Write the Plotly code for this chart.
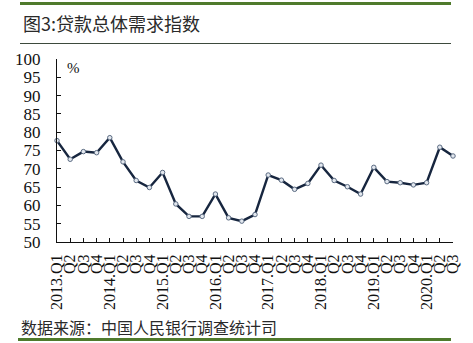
import plotly.graph_objects as go

# Loan demand index by quarter, 2013Q1 - 2020Q3 (%)
quarters = [
    "2013.Q1", "Q2", "Q3", "Q4",
    "2014.Q1", "Q2", "Q3", "Q4",
    "2015.Q1", "Q2", "Q3", "Q4",
    "2016.Q1", "Q2", "Q3", "Q4",
    "2017.Q1", "Q2", "Q3", "Q4",
    "2018.Q1", "Q2", "Q3", "Q4",
    "2019.Q1", "Q2", "Q3", "Q4",
    "2020.Q1", "Q2", "Q3",
]
demand_index = [
    77.7, 72.6, 74.7, 74.4,
    78.5, 71.9, 66.8, 64.9,
    69.0, 60.4, 57.0, 57.0,
    63.1, 56.6, 55.7, 57.5,
    68.3, 66.9, 64.4, 66.0,
    71.0, 66.8, 65.1, 63.1,
    70.4, 66.5, 66.2, 65.6,
    66.2, 75.9, 73.5,
]
y_ticks = list(range(50, 101, 5))

W, H = 473, 343
ML, MR, MT, MB = 57, 20, 59, 101
PW, PH = W - ML - MR, H - MT - MB


def px(x):
    return (x - ML) / PW


def py(y):
    return (H - MB - y) / PH


GREEN = "#4f7a2c"
SERIF = "Liberation Serif, Times New Roman, serif"
CJK = "Noto Sans CJK SC, sans-serif"

xs = list(range(len(quarters)))

fig = go.Figure()
fig.add_trace(go.Scatter(
    x=xs, y=demand_index, mode="lines+markers",
    line=dict(color="#17263f", width=2.4),
    marker=dict(symbol="circle", size=4.5, color="#e3e8ef",
                line=dict(color="#5b6b82", width=1)),
    cliponaxis=False, showlegend=False,
))

fig.update_layout(
    width=W, height=H, autosize=False,
    margin=dict(l=ML, r=MR, t=MT, b=MB, pad=0),
    paper_bgcolor="white", plot_bgcolor="white",
    font=dict(family=SERIF, size=15, color="#111111"),
    xaxis=dict(
        range=[0, len(quarters) - 1], tickmode="array",
        tickvals=xs, ticktext=quarters, tickangle=-90,
        ticks="inside", ticklen=4, tickwidth=1, tickcolor="#111",
        showline=True, linecolor="#111", linewidth=1,
        showgrid=False, zeroline=False, ticklabelstandoff=5,
        tickfont=dict(family=SERIF, size=16, color="#111"),
    ),
    yaxis=dict(
        range=[50, 100], tickmode="array", tickvals=y_ticks,
        ticks="inside", ticklen=4, tickwidth=1, tickcolor="#111",
        showline=True, linecolor="#111", linewidth=1,
        showgrid=False, zeroline=False, ticklabelstandoff=12,
        tickfont=dict(family=SERIF, size=17, color="#111"),
    ),
)

# Header and footer rules
fig.add_shape(type="line", xref="paper", yref="paper",
              x0=px(20), x1=px(451), y0=py(3.5), y1=py(3.5),
              line=dict(color=GREEN, width=3))
fig.add_shape(type="line", xref="paper", yref="paper",
              x0=px(20), x1=px(451), y0=py(43.5), y1=py(43.5),
              line=dict(color="#3d4a3d", width=1))
fig.add_shape(type="line", xref="paper", yref="paper",
              x0=px(18), x1=px(451), y0=py(339.5), y1=py(339.5),
              line=dict(color=GREEN, width=3))

fig.add_annotation(text="图3:贷款总体需求指数", xref="paper", yref="paper",
                   x=px(21), y=py(23), xanchor="left", yanchor="middle",
                   showarrow=False,
                   font=dict(family=CJK, size=18, color="#2a2a2a"))
fig.add_annotation(text="%", xref="paper", yref="paper",
                   x=px(65), y=py(68), xanchor="left", yanchor="middle",
                   showarrow=False,
                   font=dict(family=SERIF, size=15, color="#111"))
fig.add_annotation(text="数据来源：中国人民银行调查统计司", xref="paper", yref="paper",
                   x=px(19), y=py(327), xanchor="left", yanchor="middle",
                   showarrow=False,
                   font=dict(family=CJK, size=16, color="#2a2a2a"))

fig.write_html("out.html")
